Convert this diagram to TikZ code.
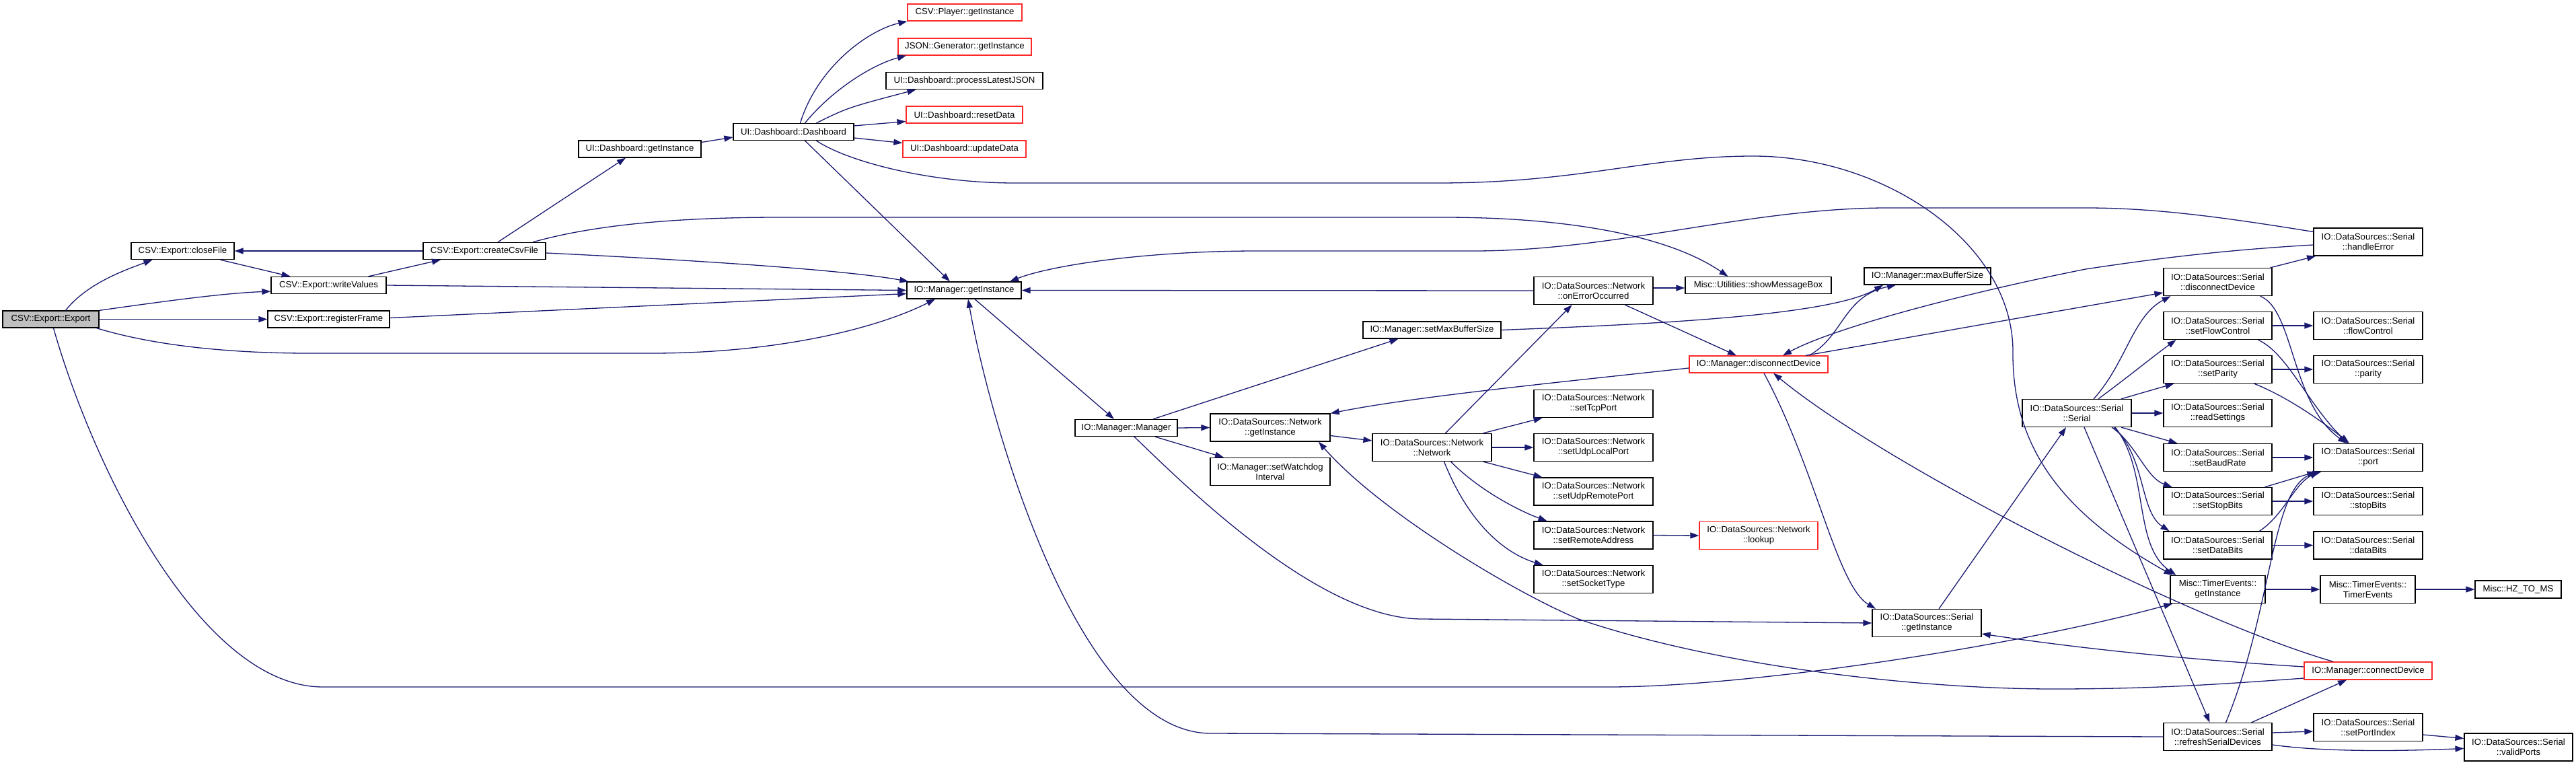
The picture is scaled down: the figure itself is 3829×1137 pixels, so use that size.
\documentclass[tikz,border=0pt]{standalone}
\usepackage{fontspec}
\newfontfamily\helv{Liberation Sans}
\usetikzlibrary{arrows.meta}
\definecolor{edgeblue}{HTML}{191970}
\definecolor{boxgrey}{HTML}{BFBFBF}
\tikzset{
  fn/.style={draw=black, line width=1.3pt, fill=white, inner sep=0pt, align=center,
    minimum height=25pt, font=\helv\fontsize{13.2}{15}\selectfont},
  fn2/.style={fn, minimum height=41pt},
  fnr/.style={draw={rgb,255:red,255;green,40;blue,40}},
  fng/.style={fill=boxgrey},
  e/.style={draw=edgeblue, line width=1.3pt, -{Triangle[length=13pt,width=9pt]}, fill=none}
}
\begin{document}
\begin{tikzpicture}[x=1pt,y=-1pt]
\useasboundingbox (0,0) rectangle (3829,1137);
% ---- nodes ----
\node[fn,fng,minimum width=143pt] (export) at (75.5,474.5) {CSV::Export::Export};
\node[fn,minimum width=153pt] (closeFile) at (271.5,373) {CSV::Export::closeFile};
\node[fn,minimum width=171pt] (writeValues) at (488.5,424) {CSV::Export::writeValues};
\node[fn,minimum width=181pt] (registerFrame) at (488.5,474.5) {CSV::Export::registerFrame};
\node[fn,minimum width=182pt] (createCsvFile) at (720,373) {CSV::Export::createCsvFile};
\node[fn,minimum width=182pt] (dashGetI) at (951,221.5) {UI::Dashboard::getInstance};
\node[fn,minimum width=179pt] (dashboard) at (1179.5,196) {UI::Dashboard::Dashboard};
\node[fn,fnr,minimum width=170pt] (player) at (1434,18.5) {CSV::Player::getInstance};
\node[fn,fnr,minimum width=198pt] (jsongen) at (1434,69.5) {JSON::Generator::getInstance};
\node[fn,minimum width=233pt] (procJSON) at (1433.5,120) {UI::Dashboard::processLatestJSON};
\node[fn,fnr,minimum width=173pt] (resetData) at (1433.5,170.5) {UI::Dashboard::resetData};
\node[fn,fnr,minimum width=183pt] (updateData) at (1433.5,221.5) {UI::Dashboard::updateData};
\node[fn,minimum width=170pt] (mgrGetI) at (1433,431.5) {IO::Manager::getInstance};
\node[fn,minimum width=152pt] (manager) at (1674,636) {IO::Manager::Manager};
\node[fn2,minimum width=178pt] (netGetI) at (1888,635.5) {IO::DataSources::Network\\::getInstance};
\node[fn2,minimum width=178pt] (watchdog) at (1888,701) {IO::Manager::setWatchdog\\Interval};
\node[fn2,minimum width=177pt] (network) at (2128.5,665) {IO::DataSources::Network\\::Network};
\node[fn2,minimum width=177pt] (tcp) at (2368.5,600) {IO::DataSources::Network\\::setTcpPort};
\node[fn2,minimum width=177pt] (udpLocal) at (2368.5,665) {IO::DataSources::Network\\::setUdpLocalPort};
\node[fn2,minimum width=177pt] (udpRemote) at (2368.5,730.5) {IO::DataSources::Network\\::setUdpRemotePort};
\node[fn2,minimum width=177pt] (remoteAddr) at (2368.5,795.5) {IO::DataSources::Network\\::setRemoteAddress};
\node[fn2,minimum width=177pt] (socketType) at (2368.5,861) {IO::DataSources::Network\\::setSocketType};
\node[fn2,fnr,minimum width=176pt] (lookup) at (2614,796) {IO::DataSources::Network\\::lookup};
\node[fn2,minimum width=177pt] (onError) at (2368.5,432) {IO::DataSources::Network\\::onErrorOccurred};
\node[fn,minimum width=205pt] (setMaxBuf) at (2128.5,490.5) {IO::Manager::setMaxBufferSize};
\node[fn,minimum width=217pt] (showMsg) at (2613.5,424) {Misc::Utilities::showMessageBox};
\node[fn,minimum width=188pt] (maxBuf) at (2865,410.5) {IO::Manager::maxBufferSize};
\node[fn,fnr,minimum width=206pt] (mgrDisc) at (2614,541.5) {IO::Manager::disconnectDevice};
\node[fn2,minimum width=162pt] (serial) at (3087,614) {IO::DataSources::Serial\\::Serial};
\node[fn2,minimum width=162pt] (serGetI) at (2864,926) {IO::DataSources::Serial\\::getInstance};
\node[fn2,minimum width=161pt] (serDisc) at (3296.5,419) {IO::DataSources::Serial\\::disconnectDevice};
\node[fn2,minimum width=161pt] (setFlow) at (3296.5,484) {IO::DataSources::Serial\\::setFlowControl};
\node[fn2,minimum width=161pt] (setParity) at (3296.5,549) {IO::DataSources::Serial\\::setParity};
\node[fn2,minimum width=161pt] (readSet) at (3296.5,614) {IO::DataSources::Serial\\::readSettings};
\node[fn2,minimum width=161pt] (setBaud) at (3296.5,680) {IO::DataSources::Serial\\::setBaudRate};
\node[fn2,minimum width=161pt] (setStop) at (3296.5,745) {IO::DataSources::Serial\\::setStopBits};
\node[fn2,minimum width=161pt] (setData) at (3296.5,810.5) {IO::DataSources::Serial\\::setDataBits};
\node[fn2,minimum width=141pt] (timerGetI) at (3296.5,876) {Misc::TimerEvents::\\getInstance};
\node[fn2,minimum width=161pt] (refresh) at (3296.5,1095) {IO::DataSources::Serial\\::refreshSerialDevices};
\node[fn2,minimum width=162pt] (handleErr) at (3520,359.5) {IO::DataSources::Serial\\::handleError};
\node[fn2,minimum width=162pt] (flowCtl) at (3520,484) {IO::DataSources::Serial\\::flowControl};
\node[fn2,minimum width=162pt] (parity) at (3520,549) {IO::DataSources::Serial\\::parity};
\node[fn2,minimum width=162pt] (port) at (3520,680) {IO::DataSources::Serial\\::port};
\node[fn2,minimum width=162pt] (stopBits) at (3520,745) {IO::DataSources::Serial\\::stopBits};
\node[fn2,minimum width=162pt] (dataBits) at (3520,810.5) {IO::DataSources::Serial\\::dataBits};
\node[fn2,minimum width=141pt] (timerEv) at (3519.5,876) {Misc::TimerEvents::\\TimerEvents};
\node[fn,minimum width=128pt,minimum height=26pt] (hz) at (3743,876) {Misc::HZ\_TO\_MS};
\node[fn,fnr,minimum width=190pt,minimum height=26pt] (connDev) at (3520,997) {IO::Manager::connectDevice};
\node[fn2,minimum width=162pt] (setPortIdx) at (3520,1081) {IO::DataSources::Serial\\::setPortIndex};
\node[fn2,minimum width=161pt] (validPorts) at (3743.5,1110.5) {IO::DataSources::Serial\\::validPorts};
% ---- edges ----
\draw[e] ([xshift=22pt]export.north) .. controls (130,420) and (190,400) .. ([xshift=-45pt]closeFile.south);
\draw[e] (export.north east) .. controls (250,447) and (330,436) .. ([yshift=-9pt]writeValues.west);
\draw[e] (export.east) -- (registerFrame.west);
\draw[e] ([xshift=68pt]export.south) .. controls (250,520) and (380,525) .. (459,525) -- (969,525) .. controls (1150,525) and (1300,490) .. ([xshift=-43pt]mgrGetI.south);
\draw[e] ([xshift=4pt]export.south) .. controls (140,700) and (300,1021) .. (480,1021) -- (2391,1021) .. controls (2600,1021) and (3000,960) .. ([xshift=4pt]timerGetI.south west);
\draw[e] ([xshift=56pt]closeFile.south) -- ([xshift=-57pt]writeValues.north);
\draw[e] (createCsvFile.west) -- (closeFile.east);
\draw[e] ([xshift=59pt]writeValues.north) -- ([xshift=-65pt]createCsvFile.south);
\draw[e] ([xshift=20pt]createCsvFile.north) -- ([xshift=-21pt]dashGetI.south);
\draw[e] ([yshift=-3pt]createCsvFile.east) .. controls (1000,385) and (1250,400) .. ([xshift=3pt]mgrGetI.north west);
\draw[e] ([xshift=72pt]createCsvFile.north) .. controls (880,335) and (1000,323) .. (1160,323) -- (2146,323) .. controls (2330,323) and (2480,350) .. ([xshift=-45pt]showMsg.north);
\draw[e] (writeValues.east) -- (mgrGetI.west);
\draw[e] ([yshift=2pt]registerFrame.east) -- ([yshift=-5pt]mgrGetI.west);
\draw[e] ([yshift=10pt]dashGetI.east) -- ([yshift=-8pt]dashboard.west);
\draw[e] ([xshift=10pt]dashboard.north) .. controls (1215,100) and (1290,45) .. (player.south west);
\draw[e] ([xshift=17pt]dashboard.north) .. controls (1240,130) and (1300,95) .. ([xshift=-87pt]jsongen.south);
\draw[e] ([xshift=34pt]dashboard.north) .. controls (1260,160) .. ([xshift=-72pt]procJSON.south);
\draw[e] ([yshift=9pt]dashboard.east) -- ([yshift=-10pt]resetData.west);
\draw[e] ([yshift=-9pt]dashboard.east) -- ([yshift=9pt]updateData.west);
\draw[e] ([xshift=17pt]dashboard.south) -- ([xshift=-21pt]mgrGetI.north);
\draw[e] ([xshift=34pt]dashboard.south) .. controls (1260,240) and (1380,272) .. (1508,272) -- (2137,272) .. controls (2350,272) and (2450,232) .. (2606,232) .. controls (2800,232) and (2990,360) .. (2992,520) .. controls (2990,660) and (3060,760) .. ([xshift=4pt]timerGetI.north west);
\draw[e] ([xshift=16pt]mgrGetI.south) -- ([xshift=-18pt]manager.north);
\draw[e] (manager.east) -- (netGetI.west);
\draw[e] ([xshift=43pt]manager.south) -- ([xshift=-69pt]watchdog.north);
\draw[e] ([xshift=40pt]manager.north) -- ([xshift=-50pt]setMaxBuf.south);
\draw[e] ([xshift=12pt]manager.south) .. controls (1760,720) and (1960,920) .. (2114,920) -- (serGetI.west);
\draw[e] ([yshift=-12pt]netGetI.east) -- ([yshift=10pt]network.west);
\draw[e] ([xshift=76pt]network.north) -- ([xshift=-76pt]tcp.south);
\draw[e] (network.east) -- (udpLocal.west);
\draw[e] ([xshift=76pt]network.south) -- ([xshift=-76pt]udpRemote.north);
\draw[e] ([xshift=28pt]network.south) .. controls (2200,730) and (2260,760) .. ([xshift=-69pt]remoteAddr.north);
\draw[e] ([xshift=18pt]network.south) .. controls (2180,770) and (2230,820) .. ([xshift=-75pt]socketType.north);
\draw[e] ([xshift=20pt]network.north) -- ([xshift=-32pt]onError.south);
\draw[e] (remoteAddr.east) -- (lookup.west);
\draw[e] (onError.west) -- (mgrGetI.east);
\draw[e] ([yshift=4pt]onError.east) -- ([yshift=-4pt]showMsg.west);
\draw[e] ([xshift=47pt]onError.south) -- ([xshift=-33pt]mgrDisc.north);
\draw[e] (setMaxBuf.east) .. controls (2450,482) and (2720,470) .. ([xshift=-66pt]maxBuf.south);
\draw[e] ([xshift=75pt]mgrDisc.north) .. controls (2740,500) and (2740,440) .. ([xshift=-47pt]maxBuf.south);
\draw[e] ([yshift=-5.5pt]mgrDisc.west) .. controls (2300,570) and (2100,590) .. (netGetI.north east);
\draw[e] ([xshift=8pt]mgrDisc.south) .. controls (2700,700) and (2730,870) .. ([xshift=-76pt]serGetI.north);
\draw[e] ([xshift=70pt]mgrDisc.north) -- ([yshift=-16pt]serDisc.west);
\draw[e] ([yshift=15pt]handleErr.west) .. controls (3300,322) and (3200,309) .. (3101,309) -- (2806,309) .. controls (2600,309) and (2400,373) .. (2191,373) -- (1869,373) .. controls (1700,373) and (1560,395) .. ([xshift=68pt]mgrGetI.north);
\draw[e] ([yshift=-4.5pt]handleErr.west) .. controls (3300,372) and (3200,385) .. (3100,400) .. controls (2900,440) and (2720,490) .. ([xshift=36pt]mgrDisc.north);
\draw[e] ([xshift=78pt]serDisc.north) -- ([xshift=-78pt]handleErr.south);
\draw[e] ([xshift=63pt]serDisc.south) .. controls (3410,460) and (3405,600) .. ([xshift=-32pt]port.north);
\draw[e] (setFlow.east) -- (flowCtl.west);
\draw[e] ([xshift=60pt]setFlow.south) .. controls (3400,525) and (3430,600) .. ([xshift=-30pt]port.north);
\draw[e] (setParity.east) -- (parity.west);
\draw[e] ([xshift=54pt]setParity.south) .. controls (3400,590) and (3450,625) .. ([xshift=-28pt]port.north);
\draw[e] (setBaud.east) -- (port.west);
\draw[e] (setStop.east) -- (stopBits.west);
\draw[e] ([xshift=70pt]setStop.north) -- ([xshift=4pt]port.south west);
\draw[e] (setData.east) -- (dataBits.west);
\draw[e] ([xshift=62pt]setData.north) .. controls (3395,765) and (3410,720) .. ([xshift=8pt]port.south west);
\draw[e] ([xshift=12pt]refresh.north) .. controls (3380,900) and (3375,720) .. ([xshift=12pt]port.south west);
\draw[e] (timerGetI.east) -- (timerEv.west);
\draw[e] (timerEv.east) -- (hz.west);
\draw[e] ([xshift=50pt]refresh.north) -- ([xshift=-32pt]connDev.south);
\draw[e] ([yshift=6pt]refresh.east) -- ([yshift=-6pt]setPortIdx.west);
\draw[e] ([yshift=-12pt]refresh.east) .. controls (3450,1117) and (3550,1117) .. ([yshift=-2pt]validPorts.west);
\draw[e] ([yshift=-11pt]setPortIdx.east) -- ([yshift=13pt]validPorts.west);
\draw[e] (refresh.west) -- (1800,1090) .. controls (1600,1090) and (1470,620) .. ([xshift=6pt]mgrGetI.south);
\draw[e] ([yshift=6pt]connDev.west) .. controls (3250,980) and (3100,965) .. ([yshift=-16pt]serGetI.east);
\draw[e] ([yshift=-11pt]connDev.west) .. controls (3300,1017) and (3200,1024) .. (3052,1024) .. controls (2850,1024) and (2550,990) .. (2346,920) .. controls (2250,880) and (2050,760) .. ([xshift=72pt]netGetI.south);
\draw[e] ([xshift=-52pt]connDev.north) .. controls (3250,920) and (2800,690) .. ([xshift=22pt]mgrDisc.south);
\draw[e] ([xshift=18pt]serGetI.north) -- ([xshift=-16pt]serial.south);
\draw[e] ([xshift=25pt]serial.north) .. controls (3160,540) and (3170,470) .. ([xshift=-70pt]serDisc.south);
\draw[e] ([xshift=32pt]serial.north) .. controls (3170,555) and (3200,530) .. ([xshift=-62pt]setFlow.south);
\draw[e] ([xshift=66pt]serial.north) -- ([xshift=-65pt]setParity.south);
\draw[e] (serial.east) -- (readSet.west);
\draw[e] ([xshift=66pt]serial.south) -- ([xshift=-60pt]setBaud.north);
\draw[e] ([xshift=52pt]serial.south) .. controls (3175,660) and (3190,710) .. ([xshift=-68pt]setStop.north);
\draw[e] ([xshift=55pt]serial.south) .. controls (3190,680) and (3180,760) .. ([xshift=-72pt]setData.north);
\draw[e] ([xshift=57pt]serial.south) .. controls (3195,700) and (3170,810) .. ([xshift=-62pt]timerGetI.north);
\draw[e] ([xshift=11pt]serial.south) -- ([xshift=-12pt]refresh.north);
\end{tikzpicture}
\end{document}
